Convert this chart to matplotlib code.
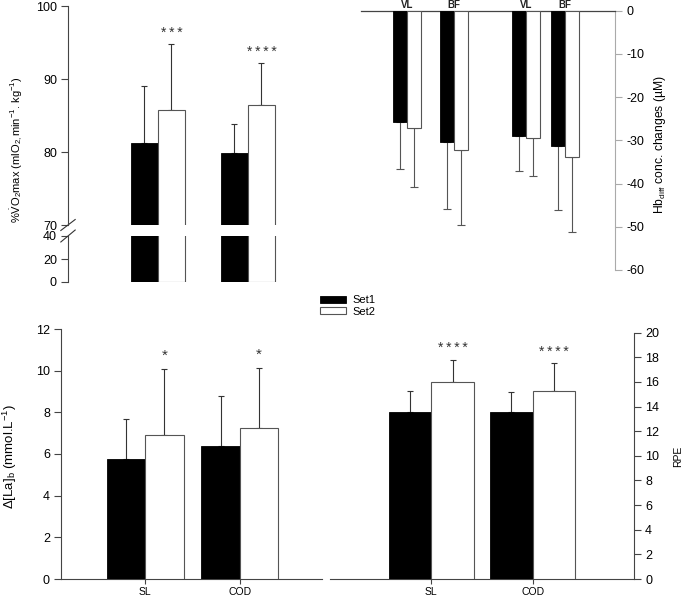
import matplotlib
matplotlib.use("Agg")
import matplotlib.pyplot as plt
import numpy as np
from matplotlib.patches import Patch

plt.rcParams['font.family'] = ['Liberation Sans', 'DejaVu Sans']
plt.rcParams['mathtext.fontset'] = 'custom'
plt.rcParams['mathtext.rm'] = 'Liberation Sans'
plt.rcParams['mathtext.it'] = 'Liberation Sans:italic'
plt.rcParams['mathtext.bf'] = 'Liberation Sans:bold'
plt.rcParams['axes.unicode_minus'] = False

# ---------------- data ----------------
series_names = ['Set1', 'Set2']
exercise_labels = ['SL', 'COD']

vo2_set1 = [81.2, 79.8]
vo2_set1_sd = [7.8, 4.0]
vo2_set2 = [85.7, 86.4]
vo2_set2_sd = [9.1, 5.8]
vo2_stars = ['***', '****']

hb_labels = ['VL', 'BF', 'VL', 'BF']
hb_set1 = [-25.7, -30.4, -29.1, -31.2]
hb_set1_sd = [10.9, 15.5, 7.9, 14.9]
hb_set2 = [-27.2, -32.2, -29.4, -33.8]
hb_set2_sd = [13.6, 17.4, 8.8, 17.4]

la_set1 = [5.74, 6.37]
la_set1_sd = [1.96, 2.41]
la_set2 = [6.90, 7.23]
la_set2_sd = [3.17, 2.92]
la_stars = ['*', '*']

rpe_set1 = [13.6, 13.56]
rpe_set1_sd = [1.7, 1.64]
rpe_set2 = [16.0, 15.28]
rpe_set2_sd = [1.8, 2.26]
rpe_stars = ['****', '****']

# ---------------- layout ----------------
W, H = 685, 598
fig = plt.figure(figsize=(W / 100, H / 100), dpi=100)


def px_axes(l, t, r, b):
    return fig.add_axes([l / W, 1 - b / H, (r - l) / W, (b - t) / H])


BLACK = 'black'
EDGE = '#555555'
ERRC = '#333333'
TICKFS = 9
STAR_SEP = '\u2009'


def style_common(ax):
    for s in ax.spines.values():
        s.set_visible(False)
    ax.set_facecolor('none')
    ax.tick_params(labelsize=TICKFS, length=5, width=0.8, color='#444444', pad=3)


def pair_bars(ax, x, v1, e1, v2, e2, w, cap, errc=ERRC, lw=0.8):
    x = np.asarray(x, dtype=float)
    v1 = np.asarray(v1); v2 = np.asarray(v2)
    e1 = np.asarray(e1); e2 = np.asarray(e2)
    z = np.zeros_like(e1)
    up1 = [z, e1] if v1.mean() >= 0 else [e1, z]
    up2 = [z, e2] if v2.mean() >= 0 else [e2, z]
    ax.bar(x - w / 2, v1, w, color=BLACK, edgecolor=BLACK, linewidth=0.6, zorder=3)
    ax.bar(x + w / 2, v2, w, color='white', edgecolor=EDGE, linewidth=lw, zorder=3)
    ax.errorbar(x - w / 2, v1, yerr=up1, fmt='none', ecolor=errc, elinewidth=lw,
                capsize=cap, capthick=lw, zorder=2)
    ax.errorbar(x + w / 2, v2, yerr=up2, fmt='none', ecolor=errc, elinewidth=lw,
                capsize=cap, capthick=lw, zorder=2)


def stars_text(s):
    return STAR_SEP.join(list(s))


# ---------- top-left: %VO2max with broken axis ----------
xg = np.arange(len(exercise_labels))
w_vo2 = 0.3
ax_up = px_axes(68, 6, 355, 225)
ax_lo = px_axes(68, 236, 355, 282)
for ax in (ax_up, ax_lo):
    style_common(ax)
    ax.spines['left'].set_visible(True)
    ax.spines['left'].set_color('#444444')
    ax.spines['left'].set_linewidth(0.8)
    pair_bars(ax, xg, vo2_set1, vo2_set1_sd, vo2_set2, vo2_set2_sd, w_vo2, 2.5)
    ax.set_xlim(-1.0, 2.19)
    ax.set_xticks([])
ax_up.set_ylim(70, 100)
ax_up.set_yticks([70, 80, 90, 100])
ax_lo.set_ylim(0, 40)
ax_lo.set_yticks([0, 20, 40])
for i, s in enumerate(vo2_stars):
    top = vo2_set2[i] + vo2_set2_sd[i]
    ax_up.text(xg[i] + w_vo2 / 2, top + 0.5, stars_text(s), ha='center',
               va='bottom', fontsize=10, color='#333333')
# break marks
for ax, yy in ((ax_up, 0.0), (ax_lo, 1.0)):
    h = 0.025 if ax is ax_up else 0.13
    ax.plot([-0.025, 0.025], [yy - h, yy + h], transform=ax.transAxes,
            color='#333333', lw=0.8, clip_on=False)
fig.text(17 / W, 1 - 150 / H,
         r'%$\dot{\mathrm{V}}$O$_2$max (mlO$_{2,}$min$^{-1}$. kg$^{-1}$)',
         rotation=90, ha='center', va='center', fontsize=8)

# ---------- top-right: Hb diff ----------
hb_pos = np.array([0.0, 1.0, 2.55, 3.38])
w_hb = 0.3
ax_hb = px_axes(360.7, 10.7, 615, 270)
style_common(ax_hb)
ax_hb.spines['top'].set_visible(True)
ax_hb.spines['top'].set_color('#444444')
ax_hb.spines['top'].set_linewidth(0.9)
ax_hb.spines['right'].set_visible(True)
ax_hb.spines['right'].set_color('#aaaaaa')
ax_hb.spines['right'].set_linewidth(0.8)
pair_bars(ax_hb, hb_pos, hb_set1, hb_set1_sd, hb_set2, hb_set2_sd, w_hb, 3,
          errc='#555555')
ax_hb.set_xlim(-1.0, 4.45)
ax_hb.set_ylim(-60, 0)
ax_hb.set_xticks([])
ax_hb.yaxis.tick_right()
ax_hb.set_yticks(np.arange(-60, 1, 10))
ax_hb.tick_params(axis='y', color='#aaaaaa')
for p, lab in zip(hb_pos, hb_labels):
    ax_hb.text(p, 1.003, lab, transform=ax_hb.get_xaxis_transform(),
               ha='center', va='bottom', fontsize=7, color='#222222',
               fontweight='bold')
fig.text(660 / W, 1 - 145 / H, r'Hb$_{\mathrm{diff}}$ conc. changes (µM)',
         rotation=90, ha='center', va='center', fontsize=8.7)

# ---------- legend ----------
handles = [Patch(facecolor=BLACK, edgecolor=BLACK, linewidth=0.6),
           Patch(facecolor='white', edgecolor=EDGE, linewidth=0.8)]
fig.legend(handles, series_names, loc='center left',
           bbox_to_anchor=(314 / W, 1 - 306 / H), frameon=False,
           fontsize=8, handlelength=2.4, handleheight=0.6,
           labelspacing=0.15, handletextpad=0.6, borderpad=0)

# ---------- bottom-left: lactate ----------
w_b = 0.406
ax_la = px_axes(61, 329, 322, 579)
style_common(ax_la)
for s in ('left', 'bottom'):
    ax_la.spines[s].set_visible(True)
    ax_la.spines[s].set_color('#444444')
    ax_la.spines[s].set_linewidth(0.8)
pair_bars(ax_la, xg, la_set1, la_set1_sd, la_set2, la_set2_sd, w_b, 2.5)
ax_la.set_xlim(-0.89, 1.87)
ax_la.set_ylim(0, 12)
ax_la.set_yticks(np.arange(0, 13, 2))
ax_la.set_xticks(xg)
ax_la.set_xticklabels(exercise_labels, fontsize=7.5)
ax_la.tick_params(axis='x', length=3.5, pad=2)
for i, s in enumerate(la_stars):
    top = la_set2[i] + la_set2_sd[i]
    ax_la.text(xg[i] + w_b / 2, top + 0.3, stars_text(s), ha='center',
               va='bottom', fontsize=11, color='#333333')
fig.text(10 / W, 1 - 457 / H, 'Δ[La]$_{\\mathrm{b}}$ (mmol.L$^{-1}$)',
         rotation=90, ha='center', va='center', fontsize=9.5)

# ---------- bottom-right: RPE ----------
w_r = 0.42
ax_rpe = px_axes(330, 332.7, 634, 579)
style_common(ax_rpe)
for s in ('right', 'bottom'):
    ax_rpe.spines[s].set_visible(True)
    ax_rpe.spines[s].set_color('#444444')
    ax_rpe.spines[s].set_linewidth(0.8)
pair_bars(ax_rpe, xg, rpe_set1, rpe_set1_sd, rpe_set2, rpe_set2_sd, w_r, 2.5)
ax_rpe.set_xlim(-1.0, 2.0)
ax_rpe.set_ylim(0, 20)
ax_rpe.yaxis.tick_right()
ax_rpe.set_yticks(np.arange(0, 21, 2))
ax_rpe.set_xticks(xg)
ax_rpe.set_xticklabels(exercise_labels, fontsize=7.5)
ax_rpe.tick_params(axis='x', length=3.5, pad=2)
for i, s in enumerate(rpe_stars):
    top = rpe_set2[i] + rpe_set2_sd[i]
    ax_rpe.text(xg[i] + w_r / 2, top + 0.35, stars_text(s), ha='center',
                va='bottom', fontsize=10, color='#333333')
fig.text(678 / W, 1 - 456 / H, 'RPE', rotation=90, ha='center', va='center',
         fontsize=7.5)

fig.savefig('out.png', dpi=100)
